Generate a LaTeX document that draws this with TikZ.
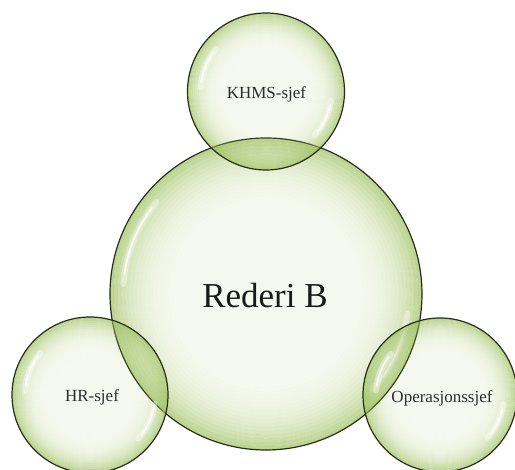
\documentclass[tikz,border=0pt]{standalone}
\usepackage{fontspec}
\setmainfont{Liberation Serif}

\definecolor{bubblegreen}{RGB}{155,190,90}
\definecolor{rimline}{RGB}{38,46,26}
\definecolor{labeltext}{RGB}{45,45,45}

\tikzset{
  bubblecore/.style={fill=bubblegreen, fill opacity=0.1},
  bubblering/.style={fill=bubblegreen, even odd rule},
  bubblerim/.style={draw=rimline, line width=1.2pt},
  glosswide/.style={draw=white, line width=6pt, line cap=round, opacity=0.4},
  glossthin/.style={draw=white, line width=1.8pt, line cap=round, opacity=0.75},
  biglabel/.style={text=black!90, font=\fontsize{35}{40}\selectfont},
  smalllabel/.style={text=labeltext, font=\fontsize{17}{20}\selectfont},
}

% one glassy bubble: centre coordinate, radius.
% The body is a clear core plus thin rings whose opacity grows towards the rim.
\newcommand\bubbledisc[2]{%
  \fill[bubblecore] (#1) circle ({0.5*#2});
  \foreach \k in {0,...,19}{%
    \pgfmathsetmacro\ringin{#2*(0.5+0.025*\k)}%
    \pgfmathsetmacro\ringout{#2*(0.525+0.025*\k)}%
    \pgfmathsetmacro\ringalpha{0.1+0.6*((0.0125+0.025*\k)/0.5)^2.8}%
    \fill[bubblering, fill opacity=\ringalpha] (#1) circle (\ringout) circle (\ringin);
  }
  \draw[glosswide] ([shift={(140:{#2-13})}]#1) arc (140:176:{#2-13});
  \draw[glossthin] ([shift={(143:{#2-13})}]#1) arc (143:172:{#2-13});
  \draw[glosswide] ([shift={(-42:{#2-13})}]#1) arc (-42:-8:{#2-13});
  \draw[glossthin] ([shift={(-38:{#2-13})}]#1) arc (-38:-12:{#2-13});
  \draw[bubblerim] (#1) circle (#2);
}

\begin{document}
\begin{tikzpicture}[x=1pt, y=1pt]
  \useasboundingbox (0,0) rectangle (515,470);

  \coordinate (cbig)   at (266,176);
  \coordinate (ctop)   at (266,378.5);
  \coordinate (cleft)  at (90,75);
  \coordinate (cright) at (440,75);

  \bubbledisc{cbig}{156}
  \bubbledisc{ctop}{78.5}
  \bubbledisc{cleft}{78}
  \bubbledisc{cright}{77}

  \node[biglabel]   (rederi) at (265,174)   {Rederi B};
  \node[smalllabel] (khms)   at (266.5,376) {KHMS-sjef};
  \node[smalllabel] (hr)     at (92,73)     {HR-sjef};
  \node[smalllabel] (ops)    at (442,72)    {Operasjonssjef};
\end{tikzpicture}
\end{document}
